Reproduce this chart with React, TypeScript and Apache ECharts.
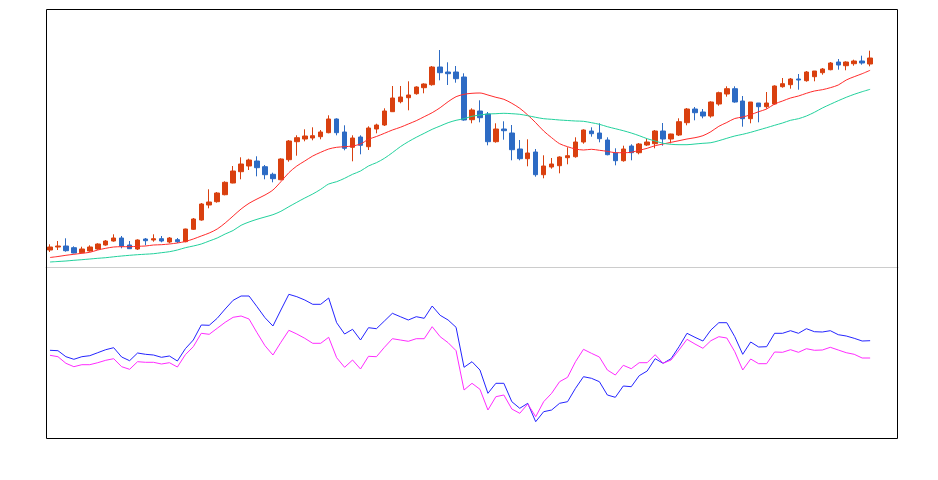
import React, { useEffect, useRef } from "react";
import * as echarts from "echarts";

// 104 trading sessions, plus 3 empty slots at the right end of the axis
const categories: string[] = Array.from({ length: 107 }, (_, i) => "D" + (i + 1));

const opens = [
  17, 20, 21, 19.3, 14.3, 16, 18, 22, 26, 29,
  22, 18, 28, 27, 28.3, 25, 27.3, 25.3, 37.7, 47,
  62, 65.3, 72.3, 84, 95.3, 101, 106, 100.3, 92.7, 87.3,
  107.3, 125.3, 128, 129, 130.3, 134.3, 148, 135, 119.7, 130,
  120.3, 138, 142, 155.3, 165.3, 169.3, 173.3, 179.3, 182.3, 200,
  195, 195, 190, 147.3, 156, 153, 125.3, 138, 134, 118,
  108.3, 115, 92.3, 100, 101.3, 109.3, 110.3, 125, 136, 134,
  127, 114, 106.3, 121, 114.3, 122, 123.3, 136, 128, 132,
  144.3, 158, 155, 151, 163, 173, 178.3, 166, 148.3, 164,
  160.3, 163, 180.3, 182.3, 188, 186.3, 190.3, 194.3, 197.3, 205,
  201.3, 203.3, 206, 203,
];
const closes = [
  20, 21, 16.3, 14, 18, 20, 23, 26, 29, 21,
  18.3, 27, 26.3, 28.3, 26, 29, 25.3, 38, 48, 63,
  65, 74, 84.7, 96, 103, 107, 99.3, 92.3, 88.3, 108,
  126, 129.3, 131, 131.3, 135, 148, 134.3, 118.7, 129, 121.7,
  139, 142, 156, 169, 170, 172, 180, 183, 200, 194.3,
  193.3, 188.3, 147, 157, 149.3, 125.3, 138, 136.3, 117.3, 108.3,
  114, 92.3, 101, 103, 110, 111.3, 125, 137, 133.3, 128.3,
  112.3, 106.3, 118, 114.3, 123, 125, 136, 128, 133, 145.3,
  158, 154.3, 151, 165, 174.3, 178.3, 165, 148.3, 165, 160.3,
  164, 181, 183.3, 188, 187, 195, 196, 198, 204, 202,
  205, 206, 204, 209,
];
const lows = [
  15, 17, 15.3, 13.7, 13.7, 15.3, 17.3, 21.3, 25.3, 18.7,
  18, 17, 21.7, 25.3, 24.7, 23.7, 24, 24.7, 37, 46.3,
  58.7, 64.3, 71.7, 83.7, 87.7, 97, 90.7, 87.7, 84.7, 86.7,
  105.3, 111.3, 125.7, 126.7, 127.7, 133.7, 131.7, 116.7, 105.7, 112.7,
  117, 133.7, 141, 155, 163.7, 156.7, 172.3, 173.7, 181.3, 186.7,
  182, 184.3, 146.3, 143.7, 144.7, 121.7, 124.3, 127.3, 106.7, 106.7,
  100.7, 90.3, 88.7, 98.3, 93.7, 102.7, 109.3, 123.3, 130.3, 124.7,
  111.7, 101.7, 105.3, 106.7, 112.7, 121, 118.7, 121.3, 123.7, 131,
  141.7, 146.7, 148.7, 149.3, 161.3, 170.3, 164.3, 140.3, 143.7, 144.7,
  158.3, 162.3, 179.3, 178.3, 177.3, 185.3, 185.7, 192.3, 196.7, 197.3,
  196.7, 201.3, 202.3, 200.7,
];
const highs = [
  22.7, 26, 28.7, 20.7, 20.3, 21.7, 23.7, 27, 32.7, 31,
  26, 27.7, 29, 32.7, 31, 30, 29, 38.3, 49, 64,
  77.7, 75, 85.7, 101, 109.7, 108.3, 110.7, 102, 94.3, 108.7,
  127, 131.7, 137.7, 139.7, 137, 151.7, 148.7, 141.7, 131.7, 131.7,
  140.7, 143.3, 158.7, 181, 181, 185.7, 180.7, 183.7, 201, 217,
  204.7, 201, 193.7, 158.7, 166.7, 155, 143.7, 145.7, 142, 127,
  127.7, 118, 111.7, 109, 110.7, 119.7, 129.7, 137.7, 139.7, 143.7,
  129.7, 118.7, 121.3, 122.7, 124, 128.3, 137, 144, 133.3, 148.7,
  159, 160, 158, 165.7, 175.3, 180.7, 180.7, 171, 165, 164,
  175, 181.7, 189, 189, 193, 196, 196, 199, 205, 208,
  205.7, 207.3, 211.3, 216.3,
];

const maFast = [
  9.5, 10.5, 11.7, 12.7, 13.7, 14.7, 17, 18.7, 20, 20.3,
  20.3, 20.7, 21, 22, 22.3, 23, 24, 25.5, 28, 31,
  34, 38, 44, 51, 58, 63.7, 68, 72, 77, 85.3,
  94.3, 101, 106, 111, 114.7, 118, 119.7, 120.3, 121, 123,
  127.7, 130.5, 133.7, 137, 139.7, 143, 146.3, 150.3, 154.3, 159.3,
  165.3, 170.3, 172.7, 173.7, 174, 172, 169.7, 167.7, 163.7, 158.7,
  152, 144.3, 136, 129.3, 123.3, 120.3, 118, 117, 117.7, 116.7,
  115.7, 114.3, 114.3, 114.7, 116.7, 118.7, 121.3, 123, 124.7, 126.3,
  128, 129.3, 131.3, 135.3, 140.7, 144.5, 148.5, 150, 152.3, 155.3,
  158, 163, 166, 169, 171, 173.7, 176, 177.3, 179.3, 182,
  187, 190.3, 193.3, 196.7,
];
const maSlow = [
  5, 5.5, 6, 6.7, 7.3, 8, 8.7, 9.3, 10.2, 11,
  11.7, 12.3, 12.8, 13.3, 14.3, 15.3, 17, 19.3, 21, 23,
  26, 29, 33, 36.5, 41.7, 45, 47.7, 50, 52.3, 55.7,
  60.3, 64.7, 69, 73, 77.7, 83, 85.3, 88.7, 92.7, 96,
  101, 104.3, 108.7, 114.3, 120.3, 125.3, 129.7, 133.7, 137.7, 141,
  144.3, 146.7, 148.3, 150.7, 152, 153, 153.3, 153.7, 153.3, 152.7,
  151.3, 149.7, 148.3, 147.7, 147, 146.5, 146, 145.7, 144.3, 142.7,
  140.3, 138.3, 136.3, 134, 131.3, 128.3, 126, 123.7, 122.7, 122.3,
  122.3, 123, 123.7, 124.3, 126.3, 128.7, 131, 132.7, 134.7, 137,
  139.3, 141.7, 144, 146.7, 148.3, 151, 154.7, 159, 162.7, 166.3,
  169.7, 172.7, 175.3, 177.7,
];

const indBlue = [
  87.7, 87.3, 81.3, 78.7, 81.3, 82.3, 85.3, 88.3, 90.3, 81,
  77.3, 85, 83.7, 83, 80.7, 82, 77, 89.3, 98, 113,
  112.7, 119.7, 129, 137.7, 142, 142, 131.3, 120.3, 112, 128,
  143.7, 141.3, 138, 133.7, 133.7, 140, 115.3, 104, 108.7, 98,
  110.3, 109.3, 117, 124.7, 121.3, 118, 121.3, 119.7, 132, 122.7,
  118, 110.7, 70.7, 76.3, 68, 44.7, 54.7, 54.7, 36.3, 29.7,
  34.7, 16.3, 26.3, 28, 34.7, 36.3, 49.7, 61.3, 59.7, 56.3,
  43, 40.7, 52, 51.3, 62.3, 67, 79.3, 74.7, 79.3, 91.3,
  104.7, 100.7, 97, 108, 115.3, 115.3, 101.3, 83.7, 96, 91,
  91.3, 104.7, 104.7, 107.3, 104.7, 109.3, 106.3, 106, 107.3, 103.3,
  102, 99.7, 97, 97.3,
];
const indMagenta = [
  82.7, 81.3, 74.7, 71.3, 73.3, 73.3, 75.3, 77.7, 79.3, 71.3,
  68.7, 76.3, 75.7, 75.7, 74, 75.3, 71, 83.3, 91.3, 104.7,
  103.7, 109.7, 115.7, 120.7, 122, 119, 105.3, 92.3, 83, 95.7,
  107.7, 104, 99.7, 94.7, 94.7, 100.7, 80.3, 70.7, 78, 69,
  81.7, 81.3, 90.7, 99.3, 98, 96.7, 99.3, 99.3, 111.3, 101.3,
  95.3, 87.3, 48, 54.7, 48.7, 28, 41.3, 43, 29, 24.7,
  34, 21.3, 36.3, 44.7, 56.3, 60.7, 76.3, 88.7, 84.7, 81,
  68, 63, 72.7, 69.3, 75.3, 75.3, 83.3, 74.7, 78, 88,
  98.7, 94, 89.7, 97.3, 101.3, 100, 86.3, 68, 79, 74.3,
  74.3, 86, 85.7, 88.3, 85.7, 89.3, 87.7, 88, 90.7, 88,
  85.3, 83.7, 80, 80,
];

export default function App() {
  const ref = useRef<HTMLDivElement>(null);
  useEffect(() => {
    if (!ref.current) return;
    const chart = echarts.init(ref.current, null, { renderer: "svg" });
    const ohlc = opens.map((o, i) => [o, closes[i], lows[i], highs[i]]);
    const hidden = {
      axisLine: { show: false },
      axisTick: { show: false },
      axisLabel: { show: false },
      splitLine: { show: false },
    };
    chart.setOption({
      animation: false,
      backgroundColor: "#ffffff",
      grid: [
        { left: 46, right: 40, top: 10, height: 257 },
        { left: 46, right: 40, top: 267, height: 171 },
      ],
      xAxis: [
        {
          type: "category",
          gridIndex: 0,
          data: categories,
          boundaryGap: true,
          axisLine: { show: true, lineStyle: { color: "#cccccc", width: 1 } },
          axisTick: { show: false },
          axisLabel: { show: false },
          splitLine: { show: false },
        },
        {
          type: "category",
          gridIndex: 1,
          data: categories,
          boundaryGap: true,
          ...hidden,
        },
      ],
      yAxis: [
        { type: "value", gridIndex: 0, min: 0, max: 257, ...hidden },
        { type: "value", gridIndex: 1, min: 0, max: 171, ...hidden },
      ],
      graphic: [
        {
          type: "rect",
          shape: { x: 46.5, y: 9.5, width: 851, height: 429 },
          style: { fill: "none", stroke: "#000000", lineWidth: 1 },
          z: 100,
          silent: true,
        },
      ],
      series: [
        {
          type: "candlestick",
          xAxisIndex: 0,
          yAxisIndex: 0,
          data: ohlc,
          barWidth: 5,
          itemStyle: {
            color: "#d9400f",
            color0: "#2d6bc4",
            borderColor: "#d9400f",
            borderColor0: "#2d6bc4",
            borderWidth: 1,
          },
        },
        {
          type: "line",
          xAxisIndex: 0,
          yAxisIndex: 0,
          data: maFast,
          showSymbol: false,
          smooth: 0.3,
          lineStyle: { color: "#ff2b2b", width: 1 },
        },
        {
          type: "line",
          xAxisIndex: 0,
          yAxisIndex: 0,
          data: maSlow,
          showSymbol: false,
          smooth: 0.3,
          lineStyle: { color: "#22d19c", width: 1 },
        },
        {
          type: "line",
          xAxisIndex: 1,
          yAxisIndex: 1,
          data: indBlue,
          showSymbol: false,
          lineStyle: { color: "#2424ff", width: 1 },
        },
        {
          type: "line",
          xAxisIndex: 1,
          yAxisIndex: 1,
          data: indMagenta,
          showSymbol: false,
          lineStyle: { color: "#ff2cff", width: 1 },
        },
      ],
    });
    return () => chart.dispose();
  }, []);
  return (
    <div
      ref={ref}
      style={{ position: "fixed", left: 0, top: 0, width: 938, height: 480 }}
    />
  );
}
